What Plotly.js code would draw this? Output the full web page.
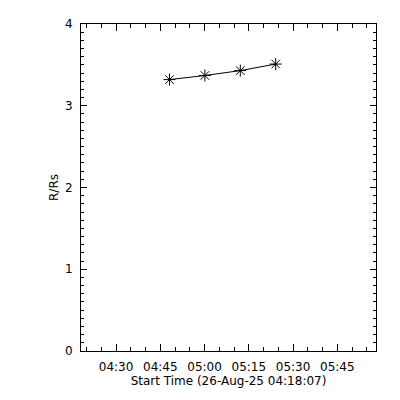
<!DOCTYPE html>
<html>
<head>
<meta charset="utf-8">
<script src="https://cdn.plot.ly/plotly-3.0.1.min.js"></script>
<style>html,body{margin:0;padding:0;background:#fff;}#chart{width:400px;height:400px;}</style>
</head>
<body>
<div id="chart"></div>
<script>
const times = ['2025-08-26 04:48:07', '2025-08-26 05:00:07', '2025-08-26 05:12:07', '2025-08-26 05:24:07'];
const heights = [3.32, 3.37, 3.43, 3.51];
const xRange = ['2025-08-26 04:18:07', '2025-08-26 05:58:07'];
const xTitle = 'Start Time (26-Aug-25 04:18:07)';
const yTitle = 'R/Rs';

const font = {family: 'DejaVu Sans', size: 12, color: '#000'};

Plotly.newPlot('chart', [{
  x: times, y: heights, type: 'scatter', mode: 'lines+markers',
  line: {color: '#000', width: 1},
  marker: {symbol: 'asterisk-open', size: 10, color: '#000', line: {color: '#000', width: 1}},
  showlegend: false
}], {
  width: 400, height: 400,
  margin: {l: 81, r: 24, t: 24, b: 49},
  paper_bgcolor: '#fff', plot_bgcolor: '#fff',
  font: font,
  xaxis: {
    type: 'date', range: xRange,
    tick0: '2025-08-26 04:30:00', dtick: 15 * 60 * 1000, tickformat: '%H:%M',
    ticks: 'inside', ticklen: 7, tickwidth: 1, tickcolor: '#000',
    minor: {dtick: 5 * 60 * 1000, ticks: 'inside', ticklen: 4, tickcolor: '#000', tickwidth: 1, showgrid: false},
    showline: true, linecolor: '#000', linewidth: 1, mirror: 'allticks',
    showgrid: false, zeroline: false,
    ticklabelstandoff: 5,
    tickfont: font,
    title: {text: xTitle, font: font, standoff: 3}
  },
  yaxis: {
    range: [0, 4], dtick: 1, tick0: 0,
    ticks: 'inside', ticklen: 6, tickwidth: 1, tickcolor: '#000',
    minor: {dtick: 0.1, ticks: 'inside', ticklen: 3, tickcolor: '#000', tickwidth: 1, showgrid: false},
    showline: true, linecolor: '#000', linewidth: 1, mirror: 'allticks',
    showgrid: false, zeroline: false,
    ticklabelstandoff: 5,
    tickfont: font,
    title: {text: yTitle, font: font, standoff: 3}
  }
}, {displayModeBar: false, staticPlot: true});
</script>
</body>
</html>
